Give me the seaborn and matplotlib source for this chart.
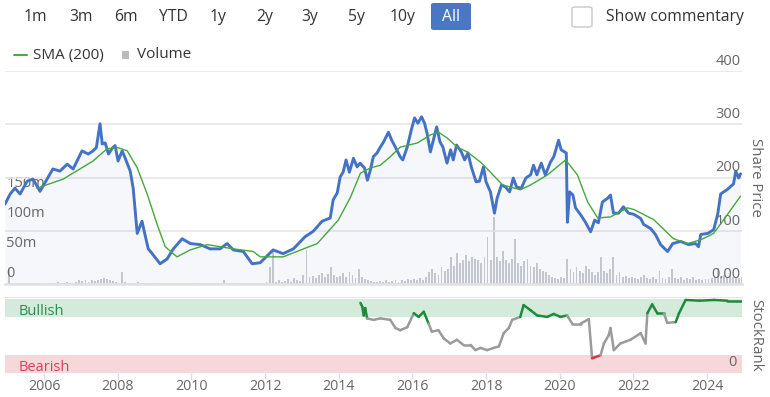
import numpy as np
import pandas as pd
import matplotlib.pyplot as plt
import seaborn as sns
from matplotlib.patches import FancyBboxPatch, Rectangle
from matplotlib.lines import Line2D
from matplotlib.collections import LineCollection

# Share price (decimal year, price)
price_years = [2004.94, 2005.08, 2005.21, 2005.35, 2005.54, 2005.70, 2005.89, 2006.08,
               2006.24, 2006.43, 2006.63, 2006.79, 2007.03, 2007.20, 2007.33, 2007.42,
               2007.52, 2007.58, 2007.66, 2007.75, 2007.85, 2007.93, 2008.01, 2008.12,
               2008.20, 2008.34, 2008.42, 2008.53, 2008.66, 2008.74, 2008.83, 2008.96,
               2009.15, 2009.34, 2009.51, 2009.75, 2009.97, 2010.24, 2010.51, 2010.78,
               2010.97, 2011.14, 2011.41, 2011.65, 2011.87, 2012.22, 2012.49, 2012.77,
               2013.09, 2013.31, 2013.55, 2013.77, 2013.85, 2013.96, 2014.04, 2014.12,
               2014.20, 2014.29, 2014.40, 2014.50, 2014.58, 2014.70, 2014.78, 2014.86,
               2014.94, 2015.04, 2015.13, 2015.22, 2015.35, 2015.44, 2015.54, 2015.67,
               2015.74, 2015.86, 2015.97, 2016.06, 2016.15, 2016.25, 2016.33, 2016.40,
               2016.49, 2016.57, 2016.66, 2016.75, 2016.83, 2016.94, 2017.04, 2017.11,
               2017.20, 2017.33, 2017.42, 2017.51, 2017.60, 2017.73, 2017.82, 2017.93,
               2018.00, 2018.12, 2018.23, 2018.30, 2018.42, 2018.53, 2018.64, 2018.74,
               2018.83, 2018.96, 2019.08, 2019.21, 2019.29, 2019.38, 2019.50, 2019.61,
               2019.75, 2019.84, 2019.97, 2020.04, 2020.18, 2020.21, 2020.27, 2020.36,
               2020.43, 2020.57, 2020.70, 2020.84, 2020.95, 2021.05, 2021.16, 2021.30,
               2021.38, 2021.46, 2021.60, 2021.73, 2021.87, 2022.01, 2022.20, 2022.28,
               2022.47, 2022.60, 2022.74, 2022.93, 2023.07, 2023.28, 2023.50, 2023.69,
               2023.77, 2023.83, 2024.02, 2024.18, 2024.29, 2024.37, 2024.56, 2024.72,
               2024.78, 2024.86, 2024.91]
price_values = [150, 169, 180, 169, 193, 197, 174, 197,
                216, 212, 225, 216, 250, 244, 250, 256,
                301, 263, 265, 244, 255, 260, 231, 250,
                237, 212, 180, 95, 118, 93, 66, 55,
                38, 47, 66, 85, 76, 74, 66, 66,
                76, 64, 61, 38, 40, 64, 57, 66,
                89, 99, 118, 124, 158, 171, 201, 210,
                233, 210, 236, 220, 227, 218, 195, 214,
                239, 246, 257, 267, 285, 270, 257, 239,
                233, 257, 289, 312, 302, 314, 302, 283,
                248, 270, 295, 267, 257, 227, 252, 233,
                261, 248, 233, 246, 220, 192, 193, 220,
                192, 173, 133, 161, 186, 182, 173, 199,
                182, 180, 199, 205, 223, 205, 227, 205,
                229, 239, 270, 252, 246, 116, 173, 167,
                143, 130, 116, 98, 120, 115, 154, 161,
                167, 133, 133, 145, 133, 131, 123, 112,
                104, 93, 74, 61, 76, 80, 74, 76,
                70, 93, 95, 102, 131, 169, 178, 188,
                212, 199, 207]

# SMA (200)
sma_years = [2005.81, 2006.52, 2007.33, 2007.71, 2008.01, 2008.26, 2008.53, 2008.80,
             2009.07, 2009.29, 2009.61, 2009.97, 2010.43, 2011.14, 2011.68, 2011.87,
             2012.06, 2012.49, 2013.42, 2013.99, 2014.32, 2014.59, 2014.86, 2015.13,
             2015.40, 2015.67, 2016.14, 2016.49, 2016.71, 2016.95, 2017.22, 2017.49,
             2017.85, 2018.12, 2018.45, 2018.93, 2019.21, 2019.67, 2020.16, 2020.48,
             2020.76, 2021.03, 2021.38, 2021.84, 2022.01, 2022.55, 2023.09, 2023.47,
             2023.83, 2024.18, 2024.56, 2024.91]
sma_values = [180, 197, 231, 254, 256, 250, 218, 169,
              112, 70, 51, 64, 74, 66, 61, 51,
              51, 51, 76, 120, 163, 208, 218, 223,
              239, 257, 265, 280, 285, 274, 257, 248,
              229, 210, 186, 177, 186, 205, 233, 205,
              154, 124, 126, 143, 140, 121, 85, 76,
              83, 95, 131, 165]

# monthly volume in millions, Jan 2005 .. Dec 2024
volume_m = [
    25, 1, 1, 1, 1, 1, 1, 1, 1, 1, 1, 1,
    1, 1, 1, 1, 3, 1, 2, 3, 2, 1, 4, 6,
    5, 6, 4, 7, 5, 6, 9, 10, 8, 6, 5, 4,
    2, 20, 3, 2, 1, 2, 4, 2, 1, 1, 1, 1,
    1, 1, 1, 1, 1, 1, 1, 1, 1, 1, 1, 1,
    1, 1, 1, 1, 1, 1, 1, 1, 1, 1, 6, 1,
    1, 2, 1, 1, 2, 1, 1, 2, 1, 1, 1, 2,
    3, 28, 57, 4, 6, 3, 5, 8, 4, 10, 6, 5,
    15, 57, 12, 14, 10, 15, 18, 12, 16, 28, 15, 12,
    14, 18, 12, 20, 15, 10, 25, 12, 8, 6, 5, 4,
    4, 5, 3, 6, 4, 5, 7, 4, 6, 5, 8, 7,
    8, 6, 10, 7, 12, 20, 25, 18, 15, 28, 22, 25,
    45, 30, 52, 35, 40, 48, 38, 45, 42, 40, 35, 45,
    78, 40, 112, 45, 38, 55, 40, 35, 42, 75, 35, 30,
    38, 42, 30, 28, 35, 25, 22, 20, 15, 12, 10, 8,
    12, 10, 42, 25, 20, 28, 22, 18, 30, 25, 20, 15,
    20, 45, 22, 18, 25, 45, 15, 20, 12, 14, 10, 12,
    10, 8, 12, 15, 10, 8, 12, 9, 22, 10, 8, 12,
    25, 10, 8, 12, 6, 10, 8, 12, 7, 9, 6, 8,
    8, 10, 12, 27, 12, 15, 10, 14, 12, 11, 10, 12,
]
volume_start = 2005

# StockRank
rank_years = [2014.59, 2014.64, 2014.68, 2014.72, 2014.77, 2014.95, 2015.13, 2015.40,
              2015.54, 2015.67, 2015.86, 2016.04, 2016.17, 2016.31, 2016.44, 2016.53,
              2016.71, 2016.85, 2017.03, 2017.21, 2017.39, 2017.58, 2017.71, 2017.85,
              2018.03, 2018.21, 2018.35, 2018.48, 2018.62, 2018.71, 2018.93, 2019.02,
              2019.21, 2019.39, 2019.66, 2019.84, 2020.02, 2020.20, 2020.34, 2020.57,
              2020.79, 2020.88, 2021.11, 2021.20, 2021.33, 2021.38, 2021.47, 2021.65,
              2021.92, 2022.20, 2022.33, 2022.38, 2022.51, 2022.65, 2022.83, 2022.92,
              2023.15, 2023.24, 2023.42, 2023.80, 2024.19, 2024.55, 2024.91]
rank_values = [95, 90, 78, 88, 74, 72, 74, 72,
               61, 58, 62, 81, 76, 83, 67, 56,
               58, 47, 40, 45, 38, 38, 31, 34,
               31, 34, 36, 54, 61, 72, 76, 92,
               85, 78, 76, 80, 76, 78, 67, 67,
               73, 20, 24, 40, 51, 61, 31, 40,
               45, 54, 40, 81, 93, 81, 81, 68,
               69, 81, 99, 98, 99, 98, 98]

range_buttons = ["1m", "3m", "6m", "YTD", "1y", "2y", "3y", "5y", "10y", "All"]
price_ticks = [0, 100, 200, 300, 400]
price_labels = ["0.00", "100", "200", "300", "400"]
volume_ticks = [0, 50, 100, 150]
volume_labels = ["0", "50m", "100m", "150m"]
year_ticks = list(range(2006, 2025, 2))

BLUE = "#4472c4"
SMA_GREEN = "#45a83c"
VOL_GREY = "#cacbd0"
GRID = "#e6e6e6"
TEXT = "#666666"
DARK = "#333333"

sns.set_style("white")
plt.rcParams["font.family"] = ["Open Sans", "DejaVu Sans"]

W, H = 770, 397
fig = plt.figure(figsize=(W / 100, H / 100), dpi=100)


def fx(px):
    return px / W


def fy(py):
    return 1 - py / H


x_min, x_max = 2004.94, 2024.95

# --- main panel: volume underneath, price on top
ax_vol = fig.add_axes([fx(5), fy(284), fx(742) - fx(5), fy(71) - fy(284)])
ax_price = ax_vol.twinx()
ax_vol.set_zorder(1)
ax_price.set_zorder(2)
ax_price.patch.set_visible(False)

volume_years = volume_start + (np.arange(len(volume_m)) + 0.5) / 12
ax_vol.bar(volume_years, volume_m, width=0.05, color=VOL_GREY, linewidth=0)
ax_vol.set_ylim(0, 355)
ax_vol.set_xlim(x_min, x_max)

price_df = pd.DataFrame({"year": price_years, "price": price_values})
sma_df = pd.DataFrame({"year": sma_years, "sma": sma_values})

for v in price_ticks[1:]:
    ax_price.axhline(v, color=GRID, lw=1.2, zorder=0)
ax_price.fill_between(price_df["year"], price_df["price"], color=BLUE, alpha=0.05, lw=0)
sns.lineplot(data=price_df, x="year", y="price", ax=ax_price, color=BLUE, lw=2.1, zorder=3)
sns.lineplot(data=sma_df, x="year", y="sma", ax=ax_price, color=SMA_GREEN, lw=1.0, zorder=4)
ax_price.set_ylim(0, 400)
ax_price.set_xlim(x_min, x_max)

for a in (ax_vol, ax_price):
    a.set_xlabel("")
    a.set_ylabel("")
    a.set_xticks([])
    a.set_yticks([])
    for s in a.spines.values():
        s.set_visible(False)
ax_vol.spines["bottom"].set_visible(True)
ax_vol.spines["bottom"].set_color(GRID)
ax_vol.spines["bottom"].set_linewidth(2)

for v, lab in zip(price_ticks, price_labels):
    ax_price.annotate(lab, xy=(1, v), xycoords=("axes fraction", "data"),
                      xytext=(-1, 1.5), textcoords="offset points",
                      ha="right", va="bottom", fontsize=10.5, color=TEXT)
for v, lab in zip(volume_ticks, volume_labels):
    ax_vol.annotate(lab, xy=(0, v), xycoords=("axes fraction", "data"),
                    xytext=(1, 2.5), textcoords="offset points",
                    ha="left", va="bottom", fontsize=10.5, color=TEXT)

# --- StockRank panel
ax_rank = fig.add_axes([fx(5), fy(373), fx(742) - fx(5), fy(297) - fy(373)])
ax_rank.set_xlim(x_min, x_max)
ax_rank.set_ylim(0, 103)
ax_rank.axhspan(76, 100, color="#d4eadb", lw=0)
ax_rank.axhspan(0, 25, color="#f6d8db", lw=0)

rv = np.array(rank_values, dtype=float)
pts = np.column_stack([rank_years, rv])
segs = np.stack([pts[:-1], pts[1:]], axis=1)
mid = (rv[:-1] + rv[1:]) / 2
seg_colors = np.where(mid >= 75, "#1f8a3b", np.where(mid <= 25, "#d8344c", "#9b9b9b"))
ax_rank.add_collection(LineCollection(segs, colors=seg_colors, linewidths=1.8,
                                      capstyle="round", joinstyle="round"))

for s in ax_rank.spines.values():
    s.set_visible(False)
ax_rank.spines["top"].set_visible(True)
ax_rank.spines["top"].set_color(GRID)
ax_rank.set_yticks([])
ax_rank.set_xticks(year_ticks)
ax_rank.set_xticklabels([str(y) for y in year_ticks])
ax_rank.tick_params(axis="x", length=4, width=1, color="#d8dce6", labelcolor=TEXT,
                    labelsize=10.2, pad=0.5, bottom=True)

ax_rank.text(2005.3, 84, "Bullish", color="#2e8b50", fontsize=10.5, va="center", ha="left")
ax_rank.text(2005.3, 8, "Bearish", color="#d6415c", fontsize=10.5, va="center", ha="left")
ax_rank.annotate("0", xy=(1, 0), xycoords="axes fraction", xytext=(-4, 2),
                 textcoords="offset points", ha="right", va="bottom", fontsize=10.5, color=TEXT)

fig.text(fx(756), fy(177), "Share Price", rotation=270, ha="center", va="center",
         fontsize=10.8, color=TEXT)
fig.text(fx(756), fy(335), "StockRank", rotation=270, ha="center", va="center",
         fontsize=10.8, color=TEXT)

# --- range selector and commentary checkbox
button_x = [35, 81, 126, 173, 218, 265, 310, 356, 403, 451]
fig.patches.append(FancyBboxPatch((fx(431), fy(30)), fx(40), 27 / H,
                                  boxstyle="round,pad=0,rounding_size=0.004",
                                  facecolor="#4a77c3", edgecolor="none",
                                  transform=fig.transFigure))
for bx, lab in zip(button_x, range_buttons):
    fig.text(fx(bx), fy(17), lab, ha="center", va="center", fontsize=11.3,
             color="white" if lab == "All" else DARK)

fig.patches.append(FancyBboxPatch((fx(572), fy(27)), fx(20), 20 / H,
                                  boxstyle="round,pad=0,rounding_size=0.004",
                                  facecolor="white", edgecolor="#c8c8c8", lw=1,
                                  transform=fig.transFigure))
fig.text(fx(606), fy(17), "Show commentary", ha="left", va="center", fontsize=11.3, color=DARK)

# --- legend row
fig.add_artist(Line2D([fx(14), fx(27)], [fy(55), fy(55)], color=SMA_GREEN, lw=1.4,
                      transform=fig.transFigure))
fig.text(fx(33), fy(55), "SMA (200)", ha="left", va="center", fontsize=11, color=DARK)
fig.patches.append(Rectangle((fx(122), fy(59)), fx(7), 8 / H, facecolor="#b9babf",
                             edgecolor="none", transform=fig.transFigure))
fig.text(fx(137), fy(55), "Volume", ha="left", va="center", fontsize=11, color=DARK)

fig.savefig("out.png", dpi=100)
